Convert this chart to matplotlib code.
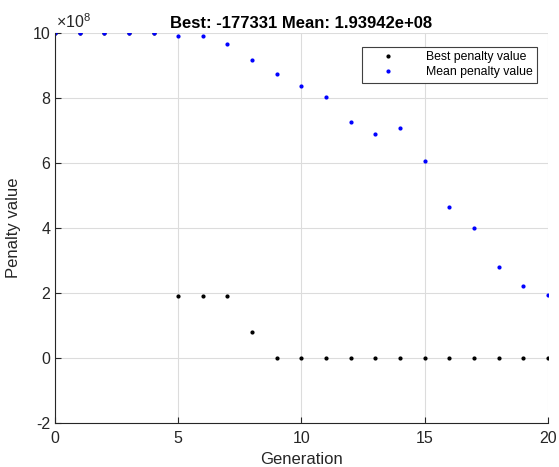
import numpy as np
import matplotlib
matplotlib.use('Agg')
import matplotlib.pyplot as plt
from matplotlib.ticker import FuncFormatter

plt.rcParams['font.family'] = ['Liberation Sans', 'DejaVu Sans']
plt.rcParams['axes.unicode_minus'] = False
plt.rcParams['mathtext.fontset'] = 'custom'
plt.rcParams['mathtext.rm'] = 'Liberation Sans'

generation = list(range(21))
best_penalty = [1.0e9, 1.0e9, 1.0e9, 1.0e9, 1.0e9, 1.92e8, 1.92e8, 1.92e8, 0.80e8,
                -177331, -177331, -177331, -177331, -177331, -177331, -177331,
                -177331, -177331, -177331, -177331, -177331]
mean_penalty = [1.0e9, 1.0e9, 1.0e9, 1.0e9, 1.0e9, 9.91e8, 9.91e8, 9.66e8, 9.17e8,
                8.74e8, 8.36e8, 8.05e8, 7.26e8, 6.89e8, 7.07e8, 6.07e8, 4.64e8,
                4.01e8, 2.80e8, 2.23e8, 1.93942e8]

fig = plt.figure(figsize=(5.59, 4.67), dpi=100)
ax = fig.add_axes([0.0984, 0.094, 0.8816, 0.835])

ax.plot(generation, best_penalty, '.', color='black', markersize=4, label='Best penalty value')
ax.plot(generation, mean_penalty, '.', color='blue', markersize=4, label='Mean penalty value')

ax.set_xlim(0, 20)
ax.set_ylim(-2e8, 10e8)
ax.set_xticks([0, 5, 10, 15, 20])
ax.set_yticks(np.arange(-2e8, 10.1e8, 2e8))
ax.yaxis.set_major_formatter(FuncFormatter(lambda v, p: '%g' % round(v / 1e8, 6)))
ax.text(0.003, 1.006, r'$\times$10$^{8}$', transform=ax.transAxes, fontsize=11.5,
        color='#262626', ha='left', va='bottom')

ax.grid(True, color='#dcdcdc', linewidth=0.8)
ax.set_axisbelow(True)
for side in ['top', 'right']:
    ax.spines[side].set_visible(False)
for side in ['left', 'bottom']:
    ax.spines[side].set_color('#262626')
    ax.spines[side].set_linewidth(0.8)
ax.tick_params(direction='in', length=4, labelsize=11.5, colors='#262626', width=0.8)
ax.tick_params(axis='x', pad=6)

ax.set_xlabel('Generation', fontsize=12, color='#262626', labelpad=4)
ax.set_ylabel('Penalty value', fontsize=12, color='#262626', labelpad=8)
ax.set_title('Best: -177331 Mean: 1.93942e+08', fontsize=12, fontweight='bold', pad=4)

leg = ax.legend(loc='upper right', bbox_to_anchor=(0.99, 0.98), fontsize=8.8,
                fancybox=False, framealpha=1, edgecolor='#404040',
                handlelength=3.6, handletextpad=1.3, borderpad=0.35, labelspacing=0.25,
                markerscale=1.0)
leg.get_frame().set_linewidth(0.8)

fig.savefig('out.png', dpi=100)
